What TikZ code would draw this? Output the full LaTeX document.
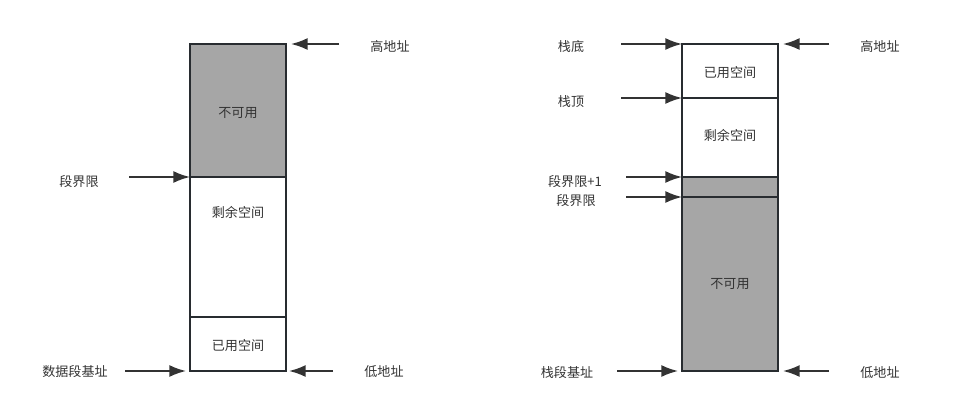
\documentclass[tikz,border=0pt]{standalone}
\usepackage{fontspec}
\newfontfamily\cjk{Noto Sans CJK SC}
\usetikzlibrary{arrows.meta,positioning,calc}
\definecolor{Ink}{RGB}{51,51,51}
\definecolor{Frame}{RGB}{40,44,48}
\definecolor{Shade}{RGB}{166,166,166}
\tikzset{
  >=Latex,
  cell/.style={draw=Frame,line width=1.5pt,fill=white,text=Ink,font=\cjk\fontsize{9.8}{11}\selectfont,minimum width=72pt,inner sep=0pt,outer sep=0pt,text height=10pt,text depth=0pt},
  blocked/.style={cell,fill=Shade},
  tag/.style={text=Ink,font=\cjk\fontsize{9.8}{11}\selectfont,inner sep=0pt,text height=10pt,text depth=0pt},
  ptr/.style={-{Latex[length=12.5pt,width=9pt]},line width=1.3pt,draw=Ink}
}
\begin{document}
\begin{tikzpicture}[x=0.75pt,y=-0.75pt]
  \path[use as bounding box] (0,0) rectangle (955,414);
  % data segment
  \node[blocked,minimum height=99.75pt] (lna) at (238,110.5) {不可用};
  \node[cell,minimum height=105pt] (lfree) at (238,247) {};
  \node[tag] (lfreetxt) at (238,211) {剩余空间};
  \node[cell,minimum height=40.5pt] (lused) at (238,344) {已用空间};
  \node[tag] (lhigh) at (390,45) {高地址};
  \node[tag] (llimit) at (79,180) {段界限};
  \node[tag] (lbase) at (75,370) {数据段基址};
  \node[tag] (llow) at (384,370) {低地址};
  \coordinate (lhighs) at (339,44);
  \coordinate (llimits) at (129,177);
  \coordinate (lbases) at (125,371);
  \coordinate (llows) at (333,371);
  \draw[ptr] (lhighs)--($(lna.north east)+(5,0)$);
  \draw[ptr] (llimits)--(lna.south west);
  \draw[ptr] (lbases)--($(lused.south west)+(-4,0)$);
  \draw[ptr] (llows)--($(lused.south east)+(3,0)$);
  % stack segment
  \node[cell,minimum height=40.5pt] (rused) at (730,71) {已用空间};
  \node[cell,minimum height=59.25pt,text height=4pt] (rfree) at (730,137.5) {剩余空间};
  \node[blocked,minimum height=15pt] (rgap) at (730,187) {};
  \node[blocked,minimum height=130.5pt,text height=6pt] (rna) at (730,284) {不可用};
  \node[tag] (rbottom) at (571,45) {栈底};
  \node[tag] (rtop) at (571,100) {栈顶};
  \node[tag] (rlimitp) at (575,180) {段界限+1};
  \node[tag] (rlimit) at (576,199) {段界限};
  \node[tag] (rbase) at (567,371) {栈段基址};
  \node[tag] (rhigh) at (880,45) {高地址};
  \node[tag] (rlow) at (880,371) {低地址};
  \coordinate (rbottoms) at (621,44);
  \coordinate (rtops) at (621,98);
  \coordinate (rlimitps) at (626,177);
  \coordinate (rlimits) at (626,197);
  \coordinate (rbases) at (617,371);
  \coordinate (rhighs) at (829,44);
  \coordinate (rlows) at (829,371);
  \draw[ptr] (rbottoms)--(rused.north west);
  \draw[ptr] (rtops)--(rfree.north west);
  \draw[ptr] (rlimitps)--(rgap.north west);
  \draw[ptr] (rlimits)--(rgap.south west);
  \draw[ptr] (rbases)--($(rna.south west)+(-4,0)$);
  \draw[ptr] (rhighs)--($(rused.north east)+(5,0)$);
  \draw[ptr] (rlows)--($(rna.south east)+(5,0)$);
\end{tikzpicture}
\end{document}
